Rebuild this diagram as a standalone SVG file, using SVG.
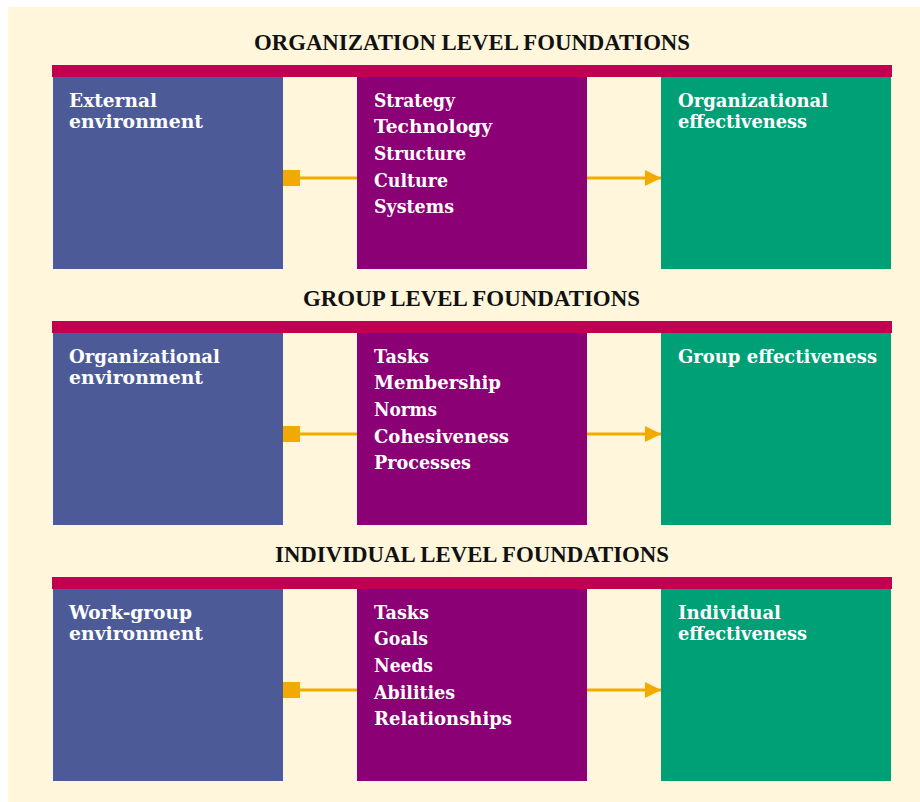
<svg xmlns="http://www.w3.org/2000/svg" width="920" height="802" viewBox="0 0 920 802">
<style>
.bg{fill:#FFF6DC}
.bar{fill:#C1004F}
.env{fill:#4C5B98}
.mid{fill:#8C0075}
.eff{fill:#00A077}
.title{font-family:"Liberation Serif",serif;font-weight:bold;font-size:22.8px;fill:#111}
.lbl{font-family:"DejaVu Serif",serif;font-weight:bold;font-size:18px;fill:#fff}
.ln{stroke:#F2A900;stroke-width:3;fill:none}
.sq{fill:#F2A900}
</style>
<defs>
<marker id="ah" markerWidth="16" markerHeight="16" refX="16" refY="8" orient="auto" markerUnits="userSpaceOnUse">
<path d="M0,0 L16,8 L0,16 Z" fill="#F2A900"/>
</marker>
</defs>
<rect class="bg" x="8" y="7" width="912" height="795"/>
<g id="org-level">
<text class="title" x="254" y="50" textLength="436" lengthAdjust="spacingAndGlyphs">ORGANIZATION LEVEL FOUNDATIONS</text>
<rect class="bar" x="52" y="65" width="840" height="12"/>
</g>
<g id="org-env"><rect class="env" x="53" y="77" width="230" height="192"/>
<text class="lbl" x="69" y="107" textLength="88" lengthAdjust="spacingAndGlyphs">External</text><text class="lbl" x="69" y="128" textLength="134" lengthAdjust="spacingAndGlyphs">environment</text></g>
<g id="org-mid"><rect class="mid" x="357" y="77" width="230" height="192"/>
<text class="lbl" x="374" y="107" textLength="81" lengthAdjust="spacingAndGlyphs">Strategy</text><text class="lbl" x="374" y="133" textLength="118" lengthAdjust="spacingAndGlyphs">Technology</text><text class="lbl" x="374" y="160" textLength="92" lengthAdjust="spacingAndGlyphs">Structure</text><text class="lbl" x="374" y="187" textLength="74" lengthAdjust="spacingAndGlyphs">Culture</text><text class="lbl" x="374" y="213" textLength="80" lengthAdjust="spacingAndGlyphs">Systems</text></g>
<g id="org-eff"><rect class="eff" x="661" y="77" width="230" height="192"/>
<text class="lbl" x="678" y="107" textLength="150" lengthAdjust="spacingAndGlyphs">Organizational</text><text class="lbl" x="678" y="128" textLength="129" lengthAdjust="spacingAndGlyphs">effectiveness</text></g>

<g id="grp-level">
<text class="title" x="303" y="306" textLength="337" lengthAdjust="spacingAndGlyphs">GROUP LEVEL FOUNDATIONS</text>
<rect class="bar" x="52" y="321" width="840" height="12"/>
</g>
<g id="grp-env"><rect class="env" x="53" y="333" width="230" height="192"/>
<text class="lbl" x="69" y="363" textLength="151" lengthAdjust="spacingAndGlyphs">Organizational</text><text class="lbl" x="69" y="384" textLength="134" lengthAdjust="spacingAndGlyphs">environment</text></g>
<g id="grp-mid"><rect class="mid" x="357" y="333" width="230" height="192"/>
<text class="lbl" x="374" y="363" textLength="55" lengthAdjust="spacingAndGlyphs">Tasks</text><text class="lbl" x="374" y="389" textLength="127" lengthAdjust="spacingAndGlyphs">Membership</text><text class="lbl" x="374" y="416" textLength="63" lengthAdjust="spacingAndGlyphs">Norms</text><text class="lbl" x="374" y="443" textLength="135" lengthAdjust="spacingAndGlyphs">Cohesiveness</text><text class="lbl" x="374" y="469" textLength="97" lengthAdjust="spacingAndGlyphs">Processes</text></g>
<g id="grp-eff"><rect class="eff" x="661" y="333" width="230" height="192"/>
<text class="lbl" x="678" y="363" textLength="199" lengthAdjust="spacingAndGlyphs">Group effectiveness</text></g>

<g id="ind-level">
<text class="title" x="275" y="562" textLength="394" lengthAdjust="spacingAndGlyphs">INDIVIDUAL LEVEL FOUNDATIONS</text>
<rect class="bar" x="52" y="577" width="840" height="12"/>
</g>
<g id="ind-env"><rect class="env" x="53" y="589" width="230" height="192"/>
<text class="lbl" x="69" y="619" textLength="123" lengthAdjust="spacingAndGlyphs">Work-group</text><text class="lbl" x="69" y="640" textLength="134" lengthAdjust="spacingAndGlyphs">environment</text></g>
<g id="ind-mid"><rect class="mid" x="357" y="589" width="230" height="192"/>
<text class="lbl" x="374" y="619" textLength="55" lengthAdjust="spacingAndGlyphs">Tasks</text><text class="lbl" x="374" y="645" textLength="54" lengthAdjust="spacingAndGlyphs">Goals</text><text class="lbl" x="374" y="672" textLength="59" lengthAdjust="spacingAndGlyphs">Needs</text><text class="lbl" x="374" y="699" textLength="81" lengthAdjust="spacingAndGlyphs">Abilities</text><text class="lbl" x="374" y="725" textLength="138" lengthAdjust="spacingAndGlyphs">Relationships</text></g>
<g id="ind-eff"><rect class="eff" x="661" y="589" width="230" height="192"/>
<text class="lbl" x="678" y="619" textLength="103" lengthAdjust="spacingAndGlyphs">Individual</text><text class="lbl" x="678" y="640" textLength="129" lengthAdjust="spacingAndGlyphs">effectiveness</text></g>

<g id="connectors">
<rect class="sq" x="283" y="170" width="17" height="16"/>
<line class="ln" x1="300" y1="178" x2="357" y2="178"/>
<line class="ln" x1="587" y1="178" x2="661" y2="178" marker-end="url(#ah)"/>
<rect class="sq" x="283" y="426" width="17" height="16"/>
<line class="ln" x1="300" y1="434" x2="357" y2="434"/>
<line class="ln" x1="587" y1="434" x2="661" y2="434" marker-end="url(#ah)"/>
<rect class="sq" x="283" y="682" width="17" height="16"/>
<line class="ln" x1="300" y1="690" x2="357" y2="690"/>
<line class="ln" x1="587" y1="690" x2="661" y2="690" marker-end="url(#ah)"/>
</g>
</svg>
